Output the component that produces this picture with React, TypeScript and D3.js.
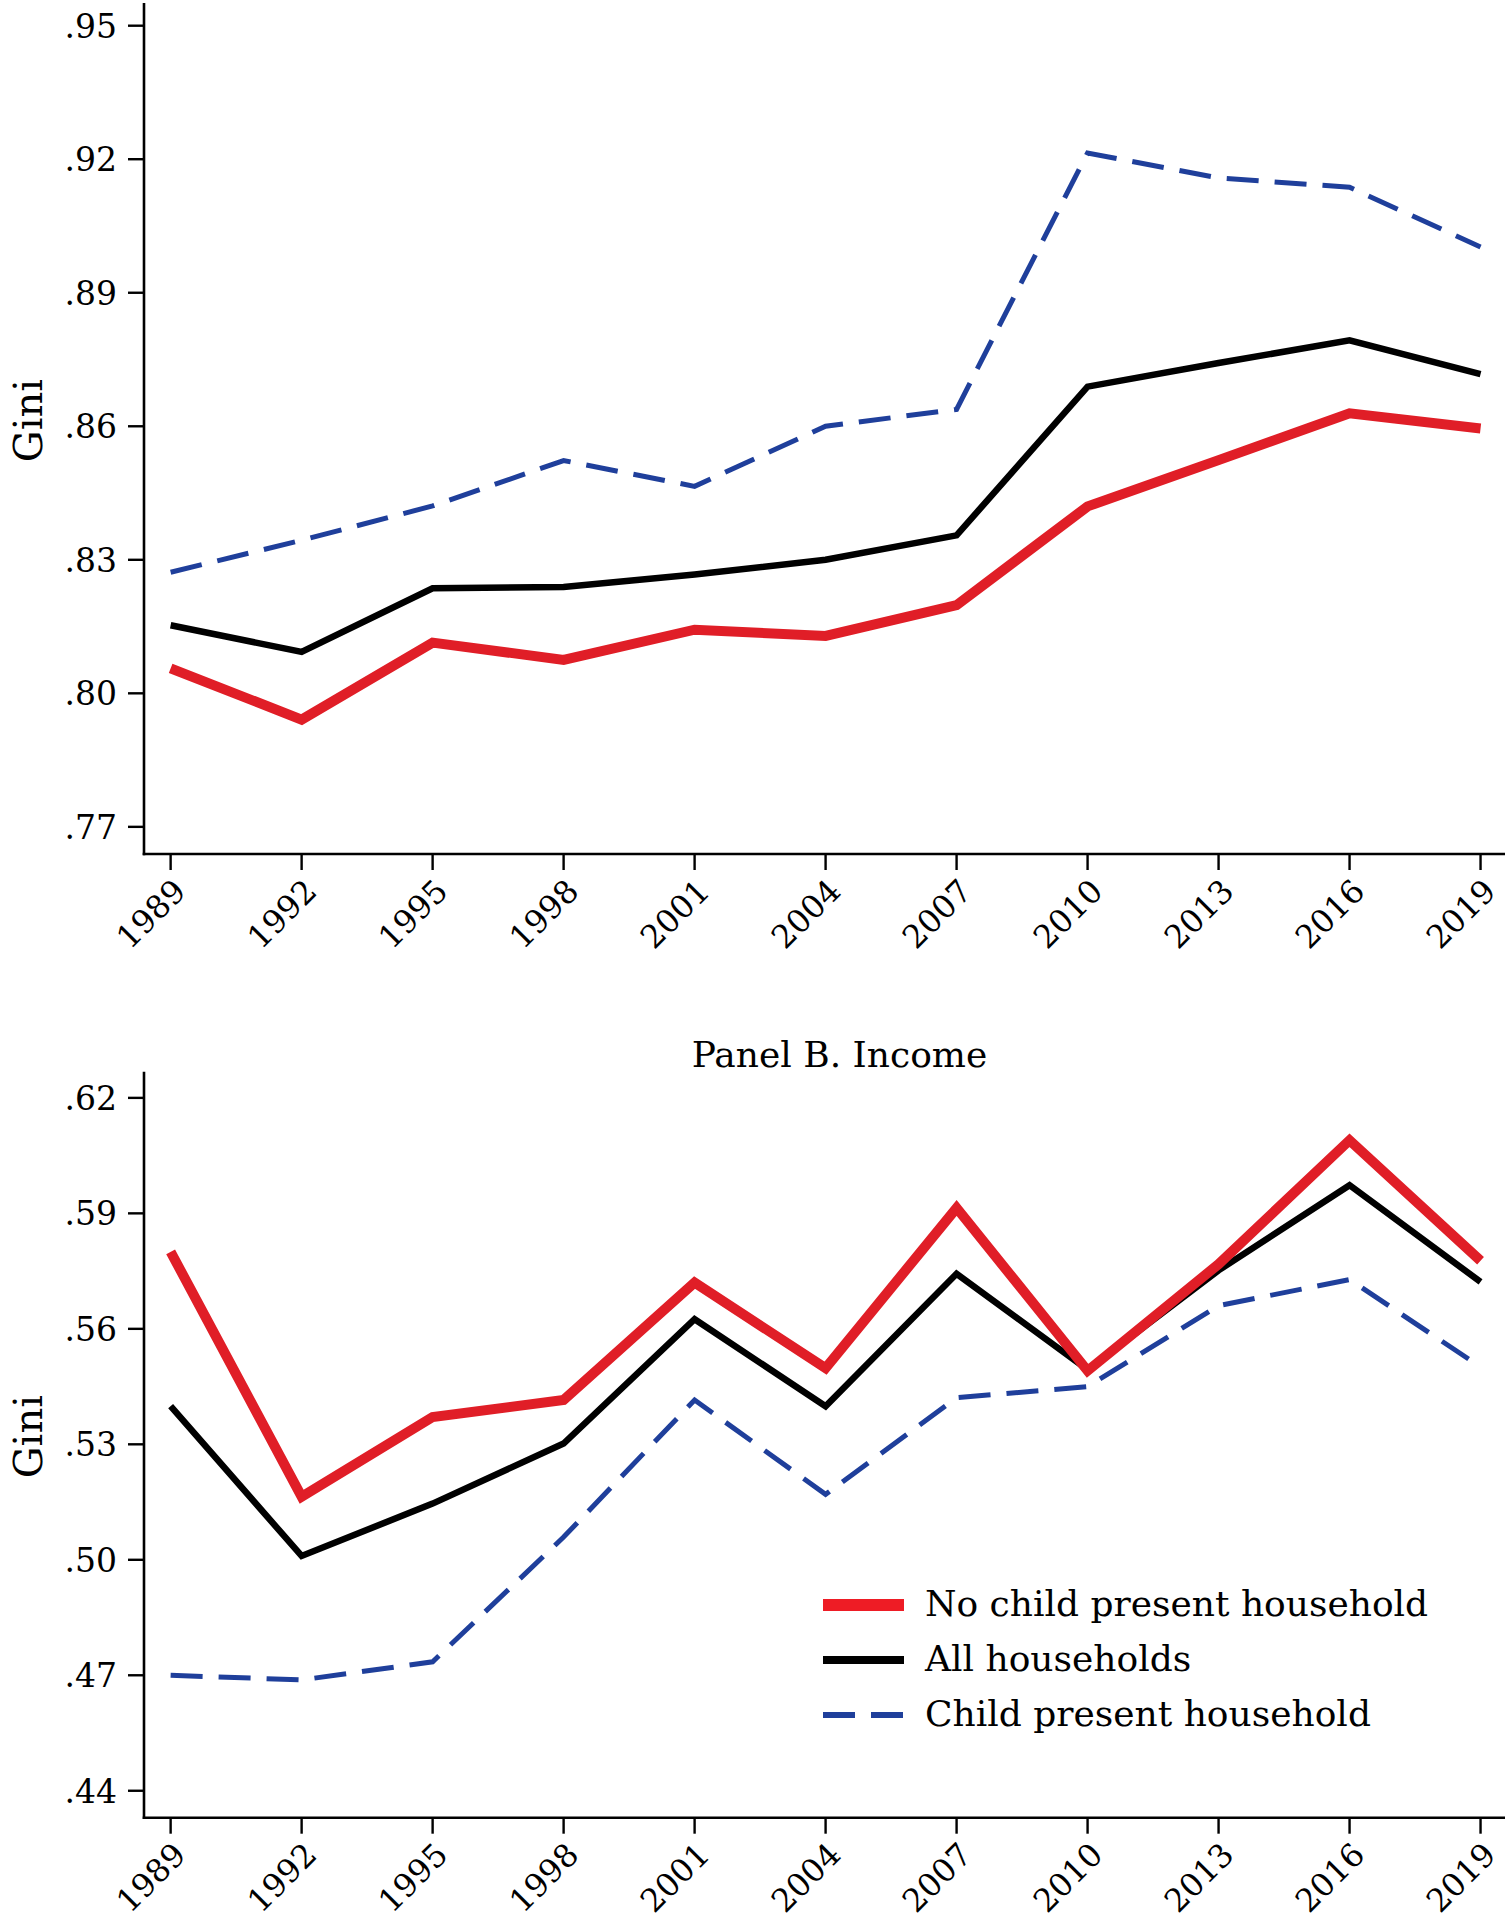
import React from "react";
import * as d3 from "d3";

const years = [1989, 1992, 1995, 1998, 2001, 2004, 2007, 2010, 2013, 2016, 2019];

const wealthNoChild = [0.8056, 0.7941, 0.8114, 0.8075, 0.8143, 0.8129, 0.8198, 0.842, 0.8524, 0.8629, 0.8595];
const wealthAll = [0.8153, 0.8093, 0.8236, 0.8239, 0.8267, 0.83, 0.8355, 0.8689, 0.8742, 0.8793, 0.8717];
const wealthChild = [0.8272, 0.8344, 0.8421, 0.8523, 0.8465, 0.86, 0.8638, 0.9214, 0.9158, 0.9137, 0.9003];

const incomeNoChild = [0.58, 0.5164, 0.5371, 0.5415, 0.572, 0.5498, 0.5914, 0.5491, 0.5768, 0.609, 0.5777];
const incomeAll = [0.5399, 0.501, 0.5146, 0.5302, 0.5625, 0.5399, 0.5743, 0.5494, 0.5752, 0.5973, 0.5722];
const incomeChild = [0.47, 0.4688, 0.4735, 0.5059, 0.5415, 0.517, 0.5421, 0.545, 0.566, 0.5728, 0.5501];

const wealthTicks = [0.77, 0.8, 0.83, 0.86, 0.89, 0.92, 0.95];
const incomeTicks = [0.44, 0.47, 0.5, 0.53, 0.56, 0.59, 0.62];

const legendLabels = ["No child present household", "All households", "Child present household"];
const panelBTitle = "Panel B. Income";
const yTitle = "Gini";

const FONT = "'DejaVu Serif', serif";
const RED = "#e01e27";
const BLACK = "#000000";
const BLUE = "#1f3f9b";

const fmt = (v: number) => v.toFixed(2).replace(/^0/, "");

type PanelProps = {
  top: number;
  bottom: number;
  domain: [number, number];
  ticks: number[];
  series: number[][];
};

const xScale = d3.scaleLinear().domain([1988.39, 2019.56]).range([144, 1505]);

function Panel({ top, bottom, domain, ticks, series }: PanelProps) {
  const y = d3.scaleLinear().domain(domain).range([bottom, top]);
  const line = (vals: number[]) =>
    d3
      .line<number>()
      .x((_, i) => xScale(years[i]))
      .y((d) => y(d))(vals) || "";
  const styles = [
    { stroke: RED, width: 10, dash: undefined as string | undefined },
    { stroke: BLACK, width: 6.5, dash: undefined as string | undefined },
    { stroke: BLUE, width: 5, dash: "32 16" },
  ];
  const x0 = xScale.range()[0];
  const x1 = xScale.range()[1];
  return (
    <g>
      <line x1={x0} x2={x0} y1={top} y2={bottom + 1.2} stroke="#000" strokeWidth={2.6} />
      <line x1={x0 - 1.3} x2={x1} y1={bottom} y2={bottom} stroke="#000" strokeWidth={2.6} />
      {ticks.map((t) => (
        <g key={t}>
          <line x1={x0 - 16} x2={x0} y1={y(t)} y2={y(t)} stroke="#000" strokeWidth={2.4} />
          <text
            x={117}
            y={y(t)}
            dy="0.36em"
            textAnchor="end"
            fontFamily={FONT}
            fontSize={33}
            fill="#000"
          >
            {fmt(t)}
          </text>
        </g>
      ))}
      {years.map((yr) => (
        <g key={yr}>
          <line x1={xScale(yr)} x2={xScale(yr)} y1={bottom} y2={bottom + 16} stroke="#000" strokeWidth={2.4} />
          <text
            transform={`translate(${xScale(yr) + 17},${bottom + 39}) rotate(-45)`}
            textAnchor="end"
            fontFamily={FONT}
            fontSize={32}
            fill="#000"
          >
            {yr}
          </text>
        </g>
      ))}
      <text
        transform={`translate(42,${(top + bottom) / 2 - 8}) rotate(-90)`}
        textAnchor="middle"
        fontFamily={FONT}
        fontSize={40}
        fill="#000"
      >
        {yTitle}
      </text>
      {[2, 1, 0].map((k) => (
        <path
          key={k}
          d={line(series[k])}
          fill="none"
          stroke={styles[k].stroke}
          strokeWidth={styles[k].width}
          strokeDasharray={styles[k].dash}
          strokeLinejoin="miter"
          strokeLinecap="butt"
        />
      ))}
    </g>
  );
}

export default function App() {
  const legendStyles = [
    { stroke: "#ee1c25", width: 12, dash: undefined as string | undefined },
    { stroke: BLACK, width: 8, dash: undefined as string | undefined },
    { stroke: BLUE, width: 6, dash: "32 16" },
  ];
  const legendY = [1605, 1660, 1715];
  return (
    <svg
      width={1509}
      height={1920}
      viewBox="0 0 1509 1920"
      style={{ position: "absolute", left: 0, top: 0, background: "#fff" }}
    >
      <rect x={0} y={0} width={1509} height={1920} fill="#fff" />
      <Panel
        top={3}
        bottom={854}
        domain={[0.7639, 0.9551]}
        ticks={wealthTicks}
        series={[wealthNoChild, wealthAll, wealthChild]}
      />
      <text x={839.5} y={1067} textAnchor="middle" fontFamily={FONT} fontSize={36} fill="#000">
        {panelBTitle}
      </text>
      <Panel
        top={1071.7}
        bottom={1817.7}
        domain={[0.433, 0.6268]}
        ticks={incomeTicks}
        series={[incomeNoChild, incomeAll, incomeChild]}
      />
      {legendLabels.map((lab, i) => (
        <g key={lab}>
          <line
            x1={823}
            x2={904}
            y1={legendY[i]}
            y2={legendY[i]}
            stroke={legendStyles[i].stroke}
            strokeWidth={legendStyles[i].width}
            strokeDasharray={legendStyles[i].dash}
          />
          <text x={925} y={legendY[i] + 11} fontFamily={FONT} fontSize={36} fill="#000">
            {lab}
          </text>
        </g>
      ))}
    </svg>
  );
}
